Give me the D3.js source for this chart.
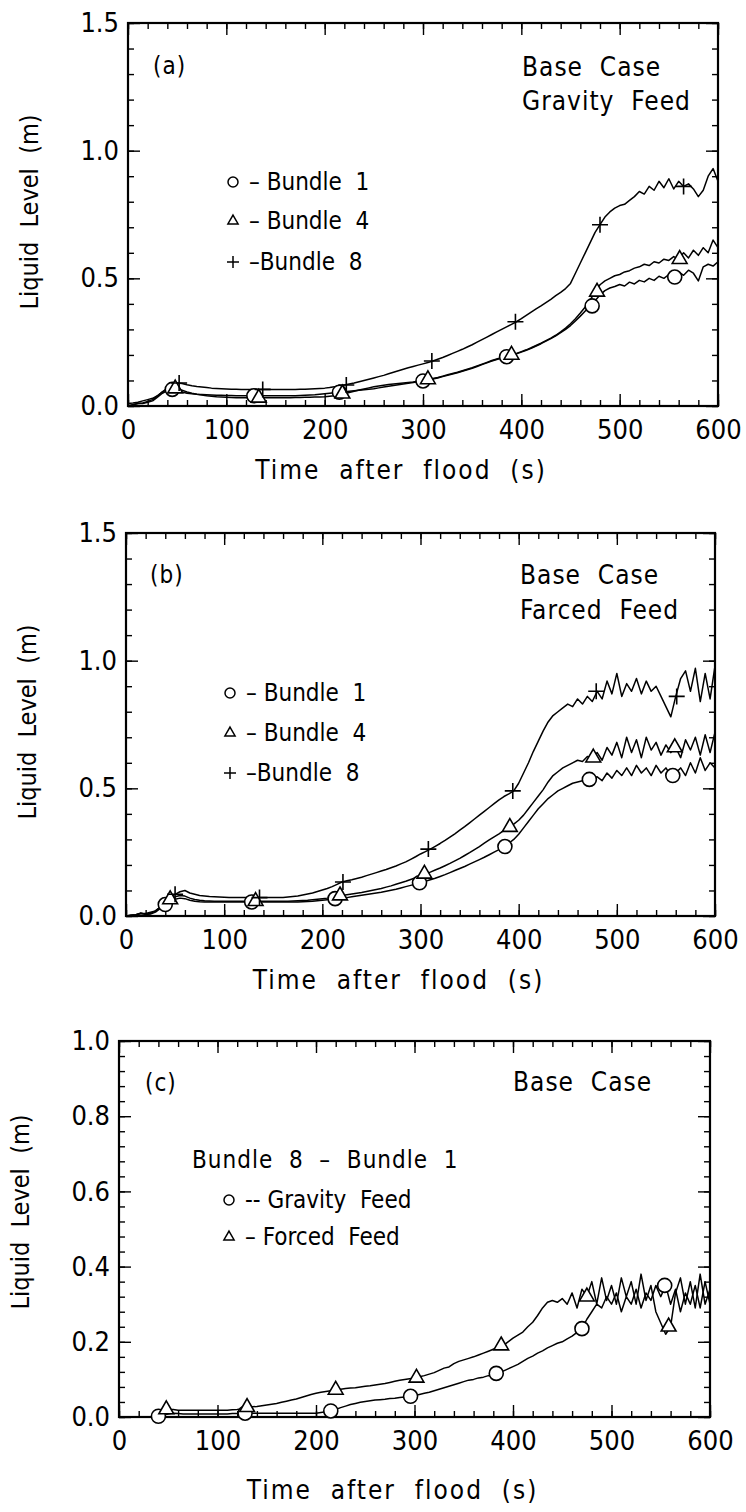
<!DOCTYPE html>
<html>
<head>
<meta charset="utf-8">
<script src="https://cdn.jsdelivr.net/npm/d3@7"></script>
<style>
  body { margin: 0; background: #fff; }
  svg text { font-family: "DejaVu Sans Condensed", "DejaVu Sans", sans-serif; fill: #000; white-space: pre; }
</style>
</head>
<body>
<svg id="chart" width="746" height="1512"></svg>
<script>
// time grid (s), one reading every 5 s
const TIME = d3.range(0, 601, 5);
const X_TICKS = [0, 100, 200, 300, 400, 500, 600];

// (a) gravity feed
const A_BUNDLE1 = [
  0.00, 0.005, 0.01, 0.01, 0.015, 0.02, 0.035, 0.05, 0.06, 0.065,
  0.06, 0.055, 0.05, 0.048, 0.046, 0.045, 0.044, 0.043, 0.042, 0.042,
  0.041, 0.041, 0.04, 0.04, 0.04, 0.04, 0.04, 0.04, 0.04, 0.04,
  0.04, 0.04, 0.04, 0.04, 0.04, 0.041, 0.042, 0.043, 0.044, 0.046,
  0.048, 0.05, 0.052, 0.054, 0.056, 0.058, 0.06, 0.062, 0.064, 0.066,
  0.068, 0.071, 0.074, 0.077, 0.08, 0.083, 0.086, 0.089, 0.092, 0.095,
  0.098, 0.102, 0.106, 0.11, 0.115, 0.12, 0.125, 0.13, 0.136, 0.142,
  0.148, 0.155, 0.162, 0.169, 0.176, 0.182, 0.188, 0.193, 0.198, 0.204,
  0.211, 0.218, 0.226, 0.235, 0.244, 0.254, 0.264, 0.275, 0.287, 0.30,
  0.315, 0.333, 0.352, 0.372, 0.392, 0.412, 0.435, 0.452, 0.462, 0.468,
  0.476, 0.47, 0.485, 0.478, 0.492, 0.486, 0.50, 0.492, 0.508, 0.50,
  0.515, 0.505, 0.525, 0.512, 0.532, 0.52, 0.49, 0.545, 0.555, 0.548, 0.565
];
const A_BUNDLE4 = [
  0.00, 0.005, 0.01, 0.012, 0.018, 0.025, 0.04, 0.055, 0.065, 0.07,
  0.068, 0.062, 0.055, 0.05, 0.046, 0.043, 0.04, 0.038, 0.036, 0.035,
  0.034, 0.033, 0.032, 0.032, 0.032, 0.032, 0.032, 0.032, 0.032, 0.032,
  0.032, 0.032, 0.032, 0.032, 0.033, 0.033, 0.034, 0.034, 0.035, 0.035,
  0.036, 0.038, 0.04, 0.044, 0.048, 0.053, 0.058, 0.063, 0.067, 0.071,
  0.075, 0.078, 0.081, 0.084, 0.086, 0.088, 0.09, 0.092, 0.094, 0.097,
  0.10, 0.104, 0.108, 0.112, 0.117, 0.122, 0.127, 0.132, 0.138, 0.144,
  0.15, 0.157, 0.164, 0.171, 0.178, 0.184, 0.19, 0.195, 0.20, 0.206,
  0.213, 0.22, 0.228, 0.237, 0.246, 0.256, 0.266, 0.277, 0.29, 0.305,
  0.322, 0.342, 0.364, 0.388, 0.415, 0.447, 0.475, 0.49, 0.50, 0.51,
  0.515, 0.525, 0.53, 0.54, 0.545, 0.555, 0.55, 0.565, 0.56, 0.575,
  0.57, 0.585, 0.575, 0.60, 0.58, 0.61, 0.59, 0.62, 0.60, 0.65, 0.62
];
const A_BUNDLE8 = [
  0.01, 0.012, 0.015, 0.02, 0.025, 0.03, 0.04, 0.055, 0.07, 0.082,
  0.09, 0.088, 0.083, 0.079, 0.076, 0.074, 0.072, 0.07, 0.069, 0.068,
  0.067, 0.066, 0.066, 0.065, 0.065, 0.065, 0.065, 0.065, 0.065, 0.065,
  0.065, 0.065, 0.065, 0.065, 0.065, 0.066, 0.066, 0.067, 0.068, 0.069,
  0.07, 0.072, 0.075, 0.078, 0.082, 0.086, 0.09, 0.095, 0.10, 0.105,
  0.11, 0.115, 0.12, 0.126, 0.132, 0.138, 0.144, 0.15, 0.155, 0.16,
  0.165, 0.17, 0.176, 0.183, 0.19, 0.198, 0.206, 0.214, 0.222, 0.231,
  0.24, 0.25, 0.26, 0.27, 0.28, 0.29, 0.30, 0.31, 0.32, 0.33,
  0.342, 0.355, 0.368, 0.38, 0.392, 0.405, 0.418, 0.432, 0.445, 0.46,
  0.48, 0.52, 0.56, 0.60, 0.64, 0.68, 0.71, 0.74, 0.76, 0.775,
  0.785, 0.79, 0.805, 0.82, 0.84, 0.83, 0.86, 0.845, 0.88, 0.855,
  0.89, 0.85, 0.88, 0.86, 0.87, 0.85, 0.82, 0.845, 0.90, 0.93, 0.88
];

// (b) forced feed
const B_BUNDLE1 = [
  0.00, 0.002, 0.004, 0.012, 0.006, 0.008, 0.015, 0.03, 0.045, 0.058,
  0.066, 0.07, 0.068, 0.062, 0.058, 0.056, 0.055, 0.055, 0.055, 0.055,
  0.055, 0.055, 0.055, 0.055, 0.055, 0.055, 0.055, 0.055, 0.055, 0.055,
  0.055, 0.055, 0.055, 0.055, 0.055, 0.055, 0.056, 0.057, 0.058, 0.06,
  0.062, 0.064, 0.066, 0.068, 0.07, 0.072, 0.075, 0.078, 0.081, 0.084,
  0.087, 0.09, 0.093, 0.097, 0.101, 0.105, 0.11, 0.115, 0.12, 0.125,
  0.13, 0.136, 0.142, 0.148, 0.155, 0.162, 0.17, 0.178, 0.186, 0.194,
  0.203, 0.212, 0.221, 0.23, 0.24, 0.25, 0.26, 0.272, 0.285, 0.30,
  0.32, 0.345, 0.37, 0.395, 0.42, 0.44, 0.46, 0.475, 0.49, 0.50,
  0.51, 0.52, 0.525, 0.53, 0.535, 0.54, 0.545, 0.53, 0.56, 0.54,
  0.57, 0.55, 0.58, 0.55, 0.59, 0.56, 0.58, 0.55, 0.59, 0.56,
  0.58, 0.55, 0.56, 0.58, 0.55, 0.60, 0.56, 0.62, 0.57, 0.60, 0.58
];
const B_BUNDLE4 = [
  0.00, 0.003, 0.005, 0.01, 0.008, 0.01, 0.02, 0.035, 0.05, 0.065,
  0.075, 0.08, 0.078, 0.07, 0.065, 0.062, 0.06, 0.059, 0.058, 0.058,
  0.058, 0.058, 0.058, 0.058, 0.058, 0.058, 0.058, 0.058, 0.058, 0.058,
  0.058, 0.058, 0.058, 0.058, 0.059, 0.06, 0.061, 0.062, 0.064, 0.066,
  0.068, 0.07, 0.073, 0.077, 0.08, 0.083, 0.086, 0.089, 0.092, 0.096,
  0.10, 0.104, 0.108, 0.113, 0.118, 0.124, 0.13, 0.136, 0.143, 0.15,
  0.157, 0.165, 0.172, 0.18, 0.188, 0.197, 0.206, 0.216, 0.226, 0.237,
  0.248, 0.26, 0.272, 0.285, 0.298, 0.31, 0.322, 0.335, 0.348, 0.36,
  0.375, 0.395, 0.42, 0.445, 0.47, 0.495, 0.525, 0.55, 0.565, 0.58,
  0.59, 0.60, 0.61, 0.605, 0.625, 0.62, 0.64, 0.61, 0.66, 0.63,
  0.68, 0.62, 0.70, 0.64, 0.69, 0.62, 0.70, 0.65, 0.68, 0.63,
  0.67, 0.64, 0.66, 0.62, 0.69, 0.65, 0.70, 0.63, 0.71, 0.64, 0.72
];
const B_BUNDLE8 = [
  0.00, 0.003, 0.005, 0.01, 0.01, 0.015, 0.02, 0.035, 0.055, 0.075,
  0.085, 0.095, 0.10, 0.09, 0.085, 0.08, 0.078, 0.076, 0.075, 0.074,
  0.073, 0.072, 0.072, 0.072, 0.072, 0.072, 0.072, 0.072, 0.072, 0.072,
  0.072, 0.072, 0.072, 0.074, 0.076, 0.078, 0.082, 0.086, 0.09, 0.096,
  0.102, 0.108, 0.115, 0.124, 0.133, 0.138, 0.142, 0.147, 0.152, 0.158,
  0.164, 0.17, 0.176, 0.182, 0.189, 0.196, 0.204, 0.212, 0.222, 0.232,
  0.243, 0.252, 0.262, 0.273, 0.284, 0.296, 0.309, 0.322, 0.336, 0.35,
  0.365, 0.38, 0.395, 0.41, 0.425, 0.44, 0.455, 0.468, 0.478, 0.49,
  0.52, 0.56, 0.60, 0.645, 0.685, 0.725, 0.76, 0.785, 0.80, 0.815,
  0.83, 0.82, 0.85, 0.83, 0.86, 0.84, 0.88, 0.85, 0.92, 0.87,
  0.95, 0.86, 0.91, 0.88, 0.93, 0.87, 0.92, 0.88, 0.90, 0.86,
  0.82, 0.78, 0.86, 0.93, 0.96, 0.88, 0.97, 0.84, 0.95, 0.85, 0.98
];

// (c) bundle 8 - bundle 1
const C_GRAVITY = [
  0, 0, 0, 0, 0, 0, 0, 0, 0.002, 0.005,
  0.008, 0.01, 0.009, 0.008, 0.008, 0.008, 0.008, 0.008, 0.008, 0.008,
  0.008, 0.008, 0.008, 0.009, 0.009, 0.009, 0.01, 0.01, 0.01, 0.01,
  0.01, 0.01, 0.01, 0.01, 0.01, 0.01, 0.01, 0.01, 0.01, 0.01,
  0.01, 0.012, 0.014, 0.016, 0.02, 0.025, 0.029, 0.033, 0.036, 0.039,
  0.041, 0.043, 0.045, 0.046, 0.047, 0.049, 0.05, 0.052, 0.053, 0.055,
  0.057, 0.06, 0.063, 0.066, 0.07, 0.074, 0.078, 0.082, 0.086, 0.09,
  0.094, 0.098, 0.10, 0.104, 0.106, 0.11, 0.112, 0.116, 0.122, 0.128,
  0.134, 0.14, 0.148, 0.156, 0.162, 0.17, 0.176, 0.184, 0.19, 0.196,
  0.20, 0.208, 0.215, 0.225, 0.235, 0.26, 0.28, 0.30, 0.29, 0.32,
  0.30, 0.33, 0.28, 0.32, 0.30, 0.34, 0.29, 0.33, 0.31, 0.35,
  0.32, 0.35, 0.30, 0.34, 0.28, 0.33, 0.30, 0.35, 0.29, 0.36, 0.30
];
const C_FORCED = [
  0, 0, 0, 0, 0, 0, 0, 0, 0.005, 0.015,
  0.02, 0.02, 0.018, 0.018, 0.018, 0.018, 0.018, 0.018, 0.018, 0.018,
  0.018, 0.018, 0.018, 0.019, 0.02, 0.022, 0.026, 0.027, 0.028, 0.03,
  0.032, 0.034, 0.036, 0.039, 0.042, 0.045, 0.048, 0.052, 0.056, 0.06,
  0.063, 0.066, 0.068, 0.07, 0.072, 0.074, 0.076, 0.077, 0.078, 0.08,
  0.082, 0.083, 0.085, 0.087, 0.089, 0.092, 0.095, 0.098, 0.10, 0.102,
  0.104, 0.107, 0.11, 0.114, 0.118, 0.124, 0.13, 0.133, 0.142, 0.148,
  0.152, 0.156, 0.16, 0.165, 0.17, 0.175, 0.18, 0.185, 0.19, 0.20,
  0.21, 0.218, 0.226, 0.24, 0.252, 0.27, 0.29, 0.305, 0.31, 0.305,
  0.315, 0.30, 0.33, 0.29, 0.34, 0.32, 0.36, 0.30, 0.37, 0.31,
  0.35, 0.30, 0.37, 0.32, 0.36, 0.30, 0.38, 0.31, 0.35, 0.28,
  0.25, 0.22, 0.24, 0.33, 0.37, 0.30, 0.36, 0.29, 0.38, 0.30, 0.34
];

// marker times (s)
const A_MARK1 = [45, 128, 215, 300, 385, 472, 556];
const A_MARK4 = [48, 133, 218, 305, 390, 477, 561];
const A_MARK8 = [52, 137, 222, 309, 394, 480, 565];
const B_MARK1 = [40, 128, 213, 299, 386, 472, 557];
const B_MARK4 = [45, 132, 218, 304, 391, 476, 559];
const B_MARK8 = [50, 136, 221, 308, 394, 479, 561];
const C_MARKG = [40, 128, 215, 296, 383, 470, 554];
const C_MARKF = [48, 130, 220, 302, 388, 475, 558];

const svg = d3.select('#chart');

const markerPath = {
  circle: 'M7,0A7,7 0 1,1 -7,0A7,7 0 1,1 7,0Z',
  triangle: d3.symbol(d3.symbolTriangle, 95)(),
  plus: 'M-8,0H8M0,-8V8'
};
const legendPath = {
  circle: 'M5,0A5,5 0 1,1 -5,0A5,5 0 1,1 5,0Z',
  triangle: d3.symbol(d3.symbolTriangle, 45)(),
  plus: 'M-6,0H6M0,-6V6'
};

const panels = [
  {
    box: { left: 128, right: 718, top: 23, bottom: 406 },
    yMax: 1.5, yMajor: 0.5, yMinor: 0.1, yTitleY: 212,
    series: [
      { values: A_BUNDLE1, marks: A_MARK1, shape: 'circle' },
      { values: A_BUNDLE4, marks: A_MARK4, shape: 'triangle' },
      { values: A_BUNDLE8, marks: A_MARK8, shape: 'plus' }
    ],
    notes: [
      { text: '(a)', x: 153, y: 74, size: 24 },
      { text: 'Base  Case', x: 522, y: 76, size: 26 },
      { text: 'Gravity  Feed', x: 522, y: 110, size: 26 }
    ],
    legend: [
      { shape: 'circle', text: '– Bundle  1', x: 233, y: 182 },
      { shape: 'triangle', text: '– Bundle  4', x: 233, y: 221 },
      { shape: 'plus', text: '–Bundle  8', x: 233, y: 262 }
    ]
  },
  {
    box: { left: 126, right: 715, top: 533, bottom: 916 },
    yMax: 1.5, yMajor: 0.5, yMinor: 0.1, yTitleY: 722,
    series: [
      { values: B_BUNDLE1, marks: B_MARK1, shape: 'circle' },
      { values: B_BUNDLE4, marks: B_MARK4, shape: 'triangle' },
      { values: B_BUNDLE8, marks: B_MARK8, shape: 'plus' }
    ],
    notes: [
      { text: '(b)', x: 150, y: 583, size: 24 },
      { text: 'Base  Case', x: 520, y: 584, size: 26 },
      { text: 'Farced  Feed', x: 520, y: 619, size: 26 }
    ],
    legend: [
      { shape: 'circle', text: '– Bundle  1', x: 230, y: 693 },
      { shape: 'triangle', text: '– Bundle  4', x: 230, y: 733 },
      { shape: 'plus', text: '–Bundle  8', x: 230, y: 773 }
    ]
  },
  {
    box: { left: 119, right: 710, top: 1041, bottom: 1417 },
    yMax: 1.0, yMajor: 0.2, yMinor: 0.04, yTitleY: 1212,
    series: [
      { values: C_GRAVITY, marks: C_MARKG, shape: 'circle' },
      { values: C_FORCED, marks: C_MARKF, shape: 'triangle' }
    ],
    notes: [
      { text: '(c)', x: 145, y: 1091, size: 24 },
      { text: 'Base  Case', x: 513, y: 1091, size: 26 },
      { text: 'Bundle  8  –  Bundle  1', x: 192, y: 1168, size: 24 }
    ],
    legend: [
      { shape: 'circle', text: '-- Gravity  Feed', x: 229, y: 1200 },
      { shape: 'triangle', text: '– Forced  Feed', x: 229, y: 1237 }
    ]
  }
];

const step = (max, by) => d3.range(0, Math.round(max / by) + 1).map(i => +(i * by).toFixed(3));

panels.forEach(p => {
  const { left, right, top, bottom } = p.box;
  const x = d3.scaleLinear().domain([0, 600]).range([left, right]);
  const y = d3.scaleLinear().domain([0, p.yMax]).range([bottom, top]);

  const g = svg.append('g');

  // inward ticks on all four sides
  const tickSets = [
    { axis: d3.axisBottom(x), pos: `translate(0,${bottom})`, values: step(600, 100), len: 12 },
    { axis: d3.axisBottom(x), pos: `translate(0,${bottom})`, values: step(600, 20), len: 6 },
    { axis: d3.axisTop(x), pos: `translate(0,${top})`, values: step(600, 100), len: 12 },
    { axis: d3.axisTop(x), pos: `translate(0,${top})`, values: step(600, 20), len: 6 },
    { axis: d3.axisLeft(y), pos: `translate(${left},0)`, values: step(p.yMax, p.yMajor), len: 12 },
    { axis: d3.axisLeft(y), pos: `translate(${left},0)`, values: step(p.yMax, p.yMinor), len: 6 },
    { axis: d3.axisRight(y), pos: `translate(${right},0)`, values: step(p.yMax, p.yMajor), len: 12 },
    { axis: d3.axisRight(y), pos: `translate(${right},0)`, values: step(p.yMax, p.yMinor), len: 6 }
  ];
  tickSets.forEach(t => {
    g.append('g')
      .attr('transform', t.pos)
      .call(t.axis.tickValues(t.values).tickSize(-t.len).tickFormat(''))
      .call(a => a.select('.domain').remove())
      .selectAll('line').attr('stroke', '#000').attr('stroke-width', 1.4);
  });

  // tick labels
  g.append('g')
    .attr('transform', `translate(${left},0)`)
    .call(d3.axisLeft(y).tickValues(step(p.yMax, p.yMajor)).tickSize(0).tickPadding(9).tickFormat(d3.format('.1f')))
    .call(a => a.select('.domain').remove())
    .attr('font-family', null).attr('font-size', 27);
  g.append('g')
    .attr('transform', `translate(0,${bottom})`)
    .call(d3.axisBottom(x).tickValues(X_TICKS).tickSize(0).tickPadding(14).tickFormat(d3.format('d')))
    .call(a => a.select('.domain').remove())
    .attr('font-family', null).attr('font-size', 27);

  // frame
  g.append('rect')
    .attr('x', left).attr('y', top)
    .attr('width', right - left).attr('height', bottom - top)
    .attr('fill', 'none').attr('stroke', '#000').attr('stroke-width', 2.2);

  // axis titles
  g.append('text')
    .attr('transform', `translate(${left - 90},${p.yTitleY}) rotate(-90)`)
    .attr('text-anchor', 'middle')
    .attr('font-size', 25)
    .text('Liquid  Level  (m)');
  g.append('text')
    .attr('x', (left + right) / 2 - 22)
    .attr('y', bottom + (p.yMax === 1.0 ? 82 : 73))
    .attr('text-anchor', 'middle')
    .attr('font-size', 26)
    .attr('letter-spacing', 2)
    .text('Time  after  flood  (s)');

  // curves
  const line = d3.line().x((d, i) => x(TIME[i])).y(d => y(d));
  p.series.forEach(s => {
    g.append('path')
      .datum(s.values)
      .attr('d', line)
      .attr('fill', 'none')
      .attr('stroke', '#000')
      .attr('stroke-width', 1.5)
      .attr('stroke-linejoin', 'round');
  });

  // markers placed on the curve at the nearest reading
  p.series.forEach(s => {
    g.selectAll(null)
      .data(s.marks)
      .join('path')
      .attr('transform', t => `translate(${x(t)},${y(s.values[Math.round(t / 5)])})`)
      .attr('d', markerPath[s.shape])
      .attr('fill', s.shape === 'plus' ? 'none' : '#fff')
      .attr('stroke', '#000')
      .attr('stroke-width', 1.6);
  });

  // annotations
  p.notes.forEach(n => {
    g.append('text')
      .attr('x', n.x).attr('y', n.y)
      .attr('font-size', n.size)
      .attr('letter-spacing', 1)
      .text(n.text);
  });

  // legend
  p.legend.forEach(l => {
    g.append('path')
      .attr('transform', `translate(${l.x},${l.y})`)
      .attr('d', legendPath[l.shape])
      .attr('fill', l.shape === 'plus' ? 'none' : '#fff')
      .attr('stroke', '#000')
      .attr('stroke-width', 1.5);
    g.append('text')
      .attr('x', l.x + 16).attr('y', l.y + 8)
      .attr('font-size', 24)
      .text(l.text);
  });
});
</script>
</body>
</html>
